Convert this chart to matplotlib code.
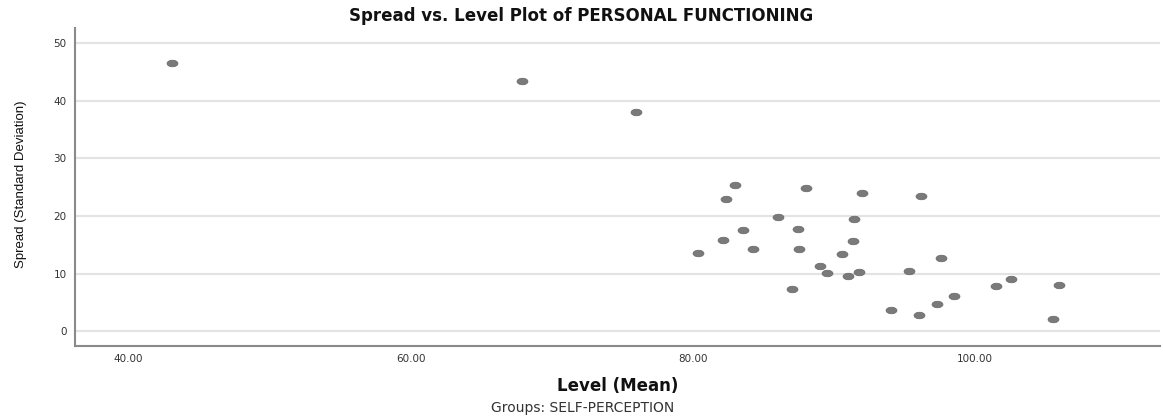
import matplotlib.pyplot as plt
from matplotlib.path import Path
from matplotlib.transforms import Affine2D

# group means (level) and standard deviations (spread)
level = [43.05, 67.9, 75.96,
         82.98, 82.34, 87.99, 92.0, 86.0, 91.44, 83.57, 87.42, 82.15, 91.37,
         80.33, 84.26, 87.49, 90.59, 88.98, 89.5, 90.97, 91.75, 87.0,
         96.12, 97.54, 95.27, 101.5, 102.55, 105.96, 94.0, 95.98, 97.3,
         98.49, 105.5]
spread = [46.6, 43.5, 38.1,
          25.4, 22.9, 24.8, 23.9, 19.8, 19.5, 17.6, 17.7, 15.8, 15.6,
          13.6, 14.3, 14.3, 13.4, 11.3, 10.05, 9.5, 10.3, 7.3,
          23.5, 12.7, 10.45, 7.85, 9.0, 7.97, 3.64, 2.72, 4.68,
          6.07, 2.13]

x_ticks = [40, 60, 80, 100]
y_ticks = [0, 10, 20, 30, 40, 50]

plt.rcParams['font.family'] = ['DejaVu Sans']

fig = plt.figure(figsize=(11.63, 4.19), dpi=100)
ax = fig.add_axes([0.0645, 0.174, 0.933, 0.759])

# flattened ellipse marker like the SPSS dots
ellipse = Path.unit_circle().transformed(Affine2D().scale(1.0, 0.6))
ax.scatter(level, spread, marker=ellipse, s=62, color='#7a7a7a',
           edgecolors='#666666', linewidths=0.5, zorder=3)

ax.set_xlim(36.2, 113.1)
ax.set_ylim(-2.6, 52.6)
ax.set_xticks(x_ticks)
ax.set_xticklabels([f"{v:.2f}" for v in x_ticks])
ax.set_yticks(y_ticks)
ax.tick_params(length=0, labelsize=7.5, colors='#333333', pad=6)

ax.grid(axis='y', color='#e3e3e3', linewidth=1.5)
ax.set_axisbelow(True)
for side in ['top', 'right']:
    ax.spines[side].set_visible(False)
for side in ['left', 'bottom']:
    ax.spines[side].set_color('#8a8a8a')
    ax.spines[side].set_linewidth(1.5)

fig.text(0.5, 0.963, "Spread vs. Level Plot of PERSONAL FUNCTIONING",
         ha='center', va='center', fontsize=12, fontweight='bold',
         color='#111111')
ax.set_xlabel("Level (Mean)", fontsize=12, fontweight='bold',
              labelpad=9, color='#111111')
fig.text(0.018, 0.56, "Spread (Standard Deviation)", rotation=90,
         ha='center', va='center', fontsize=9.5,
         family=['Liberation Sans Narrow', 'Liberation Sans'], color='#111111')
fig.text(0.501, 0.026, "Groups: SELF-PERCEPTION", ha='center', va='center',
         fontsize=10, color='#333333')

fig.savefig("out.png", dpi=100)
